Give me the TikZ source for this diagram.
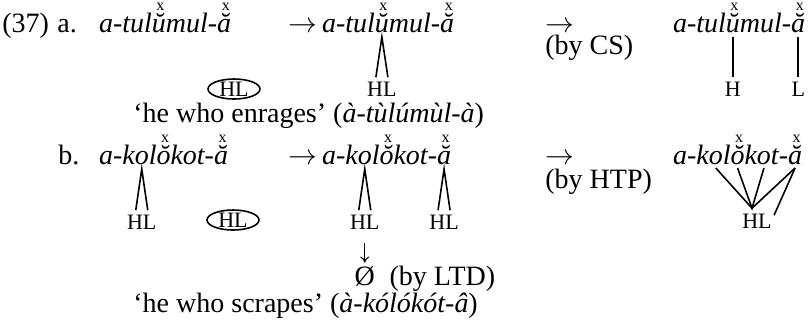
\documentclass[tikz,border=0pt]{standalone}
\usepackage{fontspec}
\setmainfont{Liberation Serif}
\usetikzlibrary{arrows.meta,positioning,shapes.geometric}
\tikzset{
  seg/.style={inner sep=0pt, outer sep=0pt, anchor=base west, font=\itshape},
  xmk/.style={inner sep=0pt, xshift=0.8pt, font=\fontsize{8}{8}\selectfont},
  tone/.style={inner sep=0pt, anchor=base, font=\fontsize{11}{12}\selectfont},
  txt/.style={inner sep=0pt, anchor=base west},
  assoc/.style={line width=0.8pt},
  oval/.style={ellipse, draw, line width=0.8pt, inner sep=0pt, minimum width=26pt,
    minimum height=10pt, text height=7pt, text depth=0pt, font=\fontsize{11}{12}\selectfont},
}
% words with marked vowels, built from pieces so the vowels can be named
\newcommand{\tulword}[2]{%
  \node[seg] (#1a) at (#2) {a-tul};
  \node[seg] (#1v) at (#1a.base east) {ŭ};
  \node[seg] (#1b) at (#1v.base east) {mul-};
  \node[seg] (#1f) at (#1b.base east) {ă};
  \node[xmk, above=10.5pt of #1v.base] (#1vx) {x};
  \node[xmk, above=10.5pt of #1f.base] (#1fx) {x};
}
\newcommand{\kolword}[2]{%
  \node[seg] (#1a) at (#2) {a-k};
  \node[seg] (#1o) at (#1a.base east) {o};
  \node[seg] (#1l) at (#1o.base east) {l};
  \node[seg] (#1v) at (#1l.base east) {ŏ};
  \node[seg] (#1k) at (#1v.base east) {k};
  \node[seg] (#1p) at (#1k.base east) {o};
  \node[seg] (#1b) at (#1p.base east) {t-};
  \node[seg] (#1f) at (#1b.base east) {ă};
  \node[xmk, above=10.5pt of #1v.base] (#1vx) {x};
  \node[xmk, above=10.5pt of #1f.base] (#1fx) {x};
}
\begin{document}
\fontsize{14}{16}\selectfont
\begin{tikzpicture}[x=0.5pt, y=-0.5pt]
  \useasboundingbox (0,0) rectangle (812,329);
  % (a)
  \node[txt] (exnum) at (2,32) {(37)};
  \node[txt] (la) at (57,32) {a.};
  \tulword{aL}{99,32}
  \node[oval] (ovA) at (234,89) {HL};
  \node[txt] (arA1) at (288,32) {$\rightarrow$};
  \tulword{aM}{322,32}
  \node[tone] (aMhl) at (aMv.base |- 0,96) {HL};
  \draw[assoc] ([xshift=-3pt,yshift=2pt]aMhl.north) -- ([yshift=-2.5pt]aMv.base)
    -- ([xshift=3pt,yshift=2pt]aMhl.north);
  \node[txt] (arA2) at (545,32) {$\rightarrow$};
  \node[txt] (cs) at (545,54) {(by CS)};
  \tulword{aR}{673,32}
  \node[tone] (aRh) at (aRv.base |- 0,96) {H};
  \node[tone] (aRl) at (aRf.base |- 0,96) {L};
  \draw[assoc] ([yshift=-2.5pt]aRv.base) -- ([yshift=2pt]aRh.north);
  \draw[assoc] ([yshift=-2.5pt]aRf.base) -- ([yshift=2pt]aRl.north);
  \node[txt] (glA) at (133,122) {‘he who enrages’ (\textit{à-tùlúmùl-à})};
  % (b)
  \node[txt] (lb) at (58,164) {b.};
  \kolword{bL}{99,164}
  \node[tone] (bLhl) at (bLo.base |- 0,229) {HL};
  \draw[assoc] ([xshift=-3pt,yshift=2pt]bLhl.north) -- ([yshift=-2.5pt]bLo.base)
    -- ([xshift=3pt,yshift=2pt]bLhl.north);
  \node[oval] (ovB) at (233,220) {HL};
  \node[txt] (arB1) at (288,164) {$\rightarrow$};
  \kolword{bM}{322,164}
  \node[tone] (bMhl1) at (bMo.base |- 0,229) {HL};
  \node[tone] (bMhl2) at (bMf.base |- 0,229) {HL};
  \draw[assoc] ([xshift=-3pt,yshift=2pt]bMhl1.north) -- ([yshift=-2.5pt]bMo.base)
    -- ([xshift=3pt,yshift=2pt]bMhl1.north);
  \draw[assoc] ([xshift=-3pt,yshift=2pt]bMhl2.north) -- ([yshift=-2.5pt]bMf.base)
    -- ([xshift=3pt,yshift=2pt]bMhl2.north);
  \node[inner sep=0pt, anchor=base] (nul) at (bMhl1.base |- 0,285) {Ø};
  \node[txt] (ltd) at ([xshift=7pt]nul.base east) {(by LTD)};
  \draw[-{To[length=3pt,width=4.5pt]}, line width=0.5pt, shorten <=7pt, shorten >=1.5pt]
    (bMhl1) -- (nul);
  \node[txt] (arB2) at (545,164) {$\rightarrow$};
  \node[txt] (htp) at (545,188) {(by HTP)};
  \kolword{bR}{673,164}
  \node[tone] (bRhl) at (757,228) {HL};
  \coordinate (fan) at ([xshift=-2.5pt,yshift=2.5pt]bRhl.north);
  \draw[assoc] ([yshift=-2pt]bRo.base) -- (fan) -- ([yshift=-2pt]bRf.base);
  \draw[assoc] ([yshift=-2pt]bRv.base) -- (fan) -- ([yshift=-2pt]bRp.base);
  \draw[assoc] ([yshift=-2pt]bRf.base) -- ([xshift=1pt,yshift=-1pt]bRhl.north east);
  \node[txt] (glB) at (133,312) {‘he who scrapes’ (\textit{à-kólókót-â})};
\end{tikzpicture}
\end{document}
